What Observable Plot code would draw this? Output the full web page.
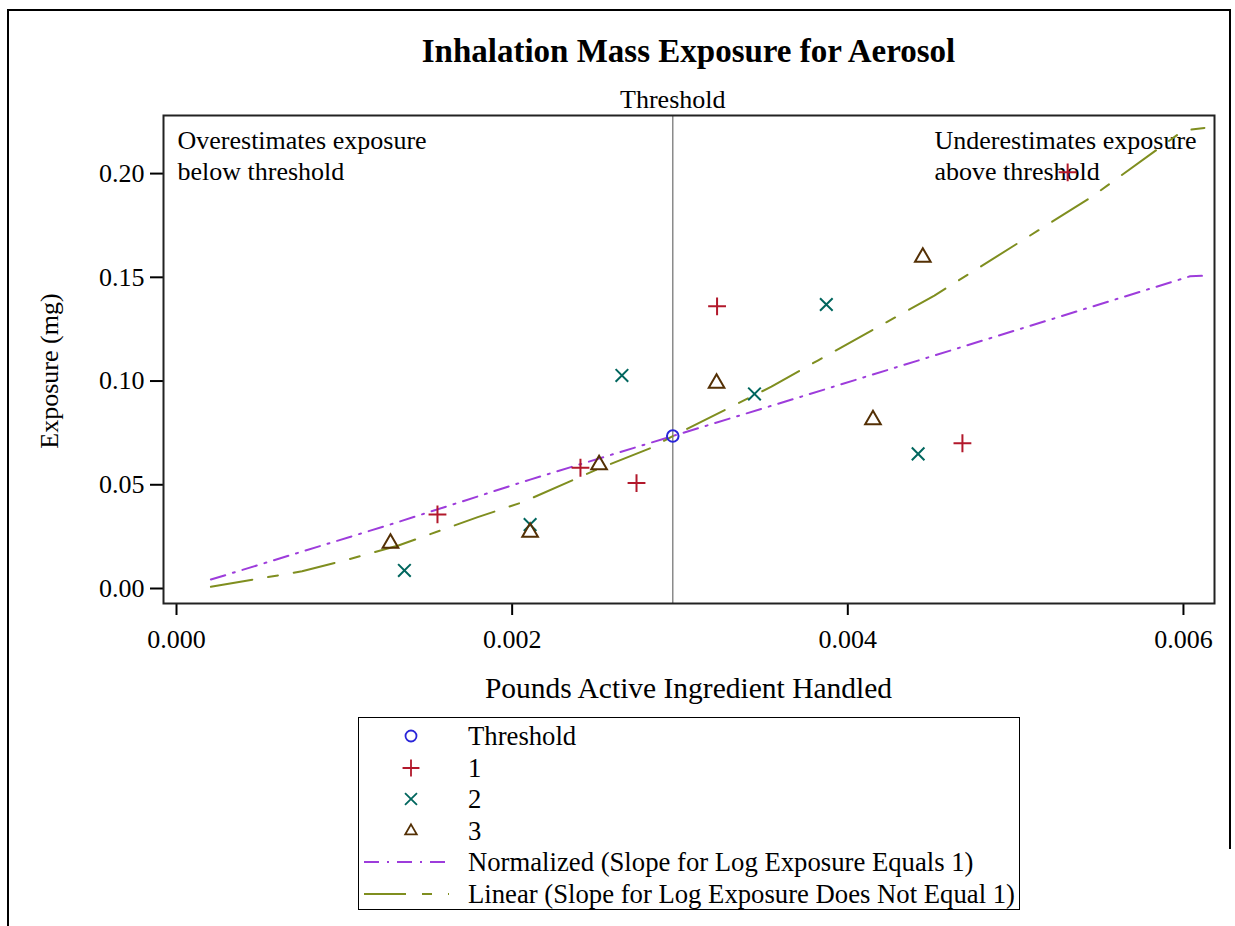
<!DOCTYPE html>
<html>
<head>
<meta charset="utf-8">
<script src="https://cdn.jsdelivr.net/npm/d3@7"></script>
<script src="https://cdn.jsdelivr.net/npm/@observablehq/plot@0.6"></script>
<style>
  html, body { margin: 0; padding: 0; background: #fff; }
  body { width: 1235px; height: 926px; position: relative; overflow: hidden; font-family: "Liberation Serif", "Times New Roman", serif; color: #000; }
  .abs { position: absolute; }
  .border { position: absolute; background: #000; z-index: 10; }
  #title { left: 163px; width: 1051px; top: 31px; text-align: center; font-weight: bold; font-size: 33px; line-height: 40px; }
  #xlabel { left: 163px; width: 1051px; top: 671px; text-align: center; font-size: 29.5px; line-height: 34px; }
  #ylabel { left: 50px; top: 371px; font-size: 26px; line-height: 30px; white-space: nowrap; transform: translate(-50%, -50%) rotate(-90deg); }
  #chart { left: 0; top: 70px; width: 1235px; }
  #legend { left: 358px; top: 717px; width: 662px; height: 193px; border: 1.5px solid #000; box-sizing: border-box; }
  .row { position: absolute; left: 0; height: 32px; font-size: 26.7px; }
  .row svg { position: absolute; }
  .row span { position: absolute; left: 109px; white-space: nowrap; line-height: 32px; }
</style>
</head>
<body>
<div class="border" style="left:7px;top:9px;width:1224px;height:2px"></div>
<div class="border" style="left:7px;top:9px;width:2px;height:917px"></div>
<div class="border" style="left:1229px;top:9px;width:2px;height:840px"></div>
<div id="title" class="abs">Inhalation Mass Exposure for Aerosol</div>
<div id="chart" class="abs"></div>
<div id="xlabel" class="abs">Pounds Active Ingredient Handled</div>
<div id="ylabel" class="abs">Exposure (mg)</div>
<div id="legend" class="abs"></div>
<script>
// ---- data ----
const thresholdX = [0.002957];
const thresholdY = [0.0735];

const group1X = [0.001555, 0.002407, 0.002741, 0.003221, 0.004683, 0.005310];
const group1Y = [0.0357, 0.0582, 0.0508, 0.1360, 0.0700, 0.2006];

const group2X = [0.001358, 0.002107, 0.002654, 0.003444, 0.003872, 0.004419];
const group2Y = [0.0087, 0.0308, 0.1027, 0.0938, 0.1369, 0.0649];

const group3X = [0.001275, 0.002107, 0.002518, 0.003218, 0.004150, 0.004447];
const group3Y = [0.0218, 0.0271, 0.0596, 0.0989, 0.0813, 0.1597];

const normX = [0.000205, 0.001300, 0.002107, 0.002957, 0.003872, 0.004683, 0.006040, 0.006110];
const normY = [0.0043, 0.0315, 0.0525, 0.0735, 0.0962, 0.1165, 0.1505, 0.1507];

const linX = [0.000205, 0.000748, 0.001014, 0.001322, 0.001795, 0.002062, 0.002514, 0.002822, 0.002957, 0.003545, 0.003821, 0.004516, 0.005450, 0.005998, 0.006125];
const linY = [0.0008, 0.0083, 0.0138, 0.0207, 0.0344, 0.0416, 0.0577, 0.0676, 0.0735, 0.0973, 0.1099, 0.1412, 0.1886, 0.2207, 0.2220];

const xTicks = [0, 0.002, 0.004, 0.006];
const yTicks = [0, 0.05, 0.10, 0.15, 0.20];

const seriesNames = ["Threshold", "1", "2", "3"];
const seriesSymbols = ["circle", "plus", "times", "triangle"];
const seriesColors = ["#2A25D9", "#B2182B", "#01665E", "#543005"];
const lineNames = ["Normalized (Slope for Log Exposure Equals 1)", "Linear (Slope for Log Exposure Does Not Equal 1)"];
const lineColors = ["#9D3CDB", "#7F8E1F"];
const lineDashes = ["15,8,2,8", "42,16,10,16"];

const noteLeft = "Overestimates exposure\nbelow threshold";
const noteRight = "Underestimates exposure\nabove threshold";

// ---- build tables ----
const zip = (xs, ys) => xs.map((x, i) => ({x, y: ys[i]}));
const pointSets = [zip(thresholdX, thresholdY), zip(group1X, group1Y), zip(group2X, group2Y), zip(group3X, group3Y)];
const lineSets = [zip(normX, normY), zip(linX, linY)];

const TICK_FONT = 26;
const fmtX = d3.format(".3f");
const fmtY = d3.format(".2f");
const R = 5.8;
const chart = Plot.plot({
  width: 1235,
  height: 590,
  marginTop: 45,
  marginLeft: 163,
  marginRight: 21,
  marginBottom: 57,
  style: {fontFamily: "'Liberation Serif', 'Times New Roman', serif", fontSize: "20px", background: "transparent", overflow: "visible", color: "#000"},
  x: {domain: [-0.0000775, 0.006185], ticks: xTicks, tickFormat: () => "", tickSize: 12, label: null},
  y: {domain: [-0.00723, 0.228], ticks: yTicks, tickFormat: () => "", tickSize: 13, label: null},
  marks: [
    // tick labels drawn as text marks so their size is controlled
    Plot.text(xTicks, {x: d => d, frameAnchor: "bottom", text: d => fmtX(d), dy: 36, lineAnchor: "middle", fontSize: TICK_FONT, fill: "#000", clip: false}),
    Plot.text(yTicks, {y: d => d, frameAnchor: "left", text: d => fmtY(d), dx: -19, textAnchor: "end", lineAnchor: "middle", fontSize: TICK_FONT, fill: "#000", clip: false}),
    Plot.ruleX(thresholdX, {x: d => d, stroke: "#8a8a8a", strokeWidth: 1.5}),
    Plot.text(thresholdX, {x: d => d, frameAnchor: "top", text: () => "Threshold", dy: -8, lineAnchor: "bottom", fontSize: 26, fill: "#000"}),
    Plot.text([noteLeft], {frameAnchor: "top-left", text: d => d, dx: 14, dy: 11, lineAnchor: "top", textAnchor: "start", fontSize: 26, lineHeight: 1.2, fill: "#000"}),
    Plot.text([noteRight], {frameAnchor: "top-right", text: d => d, dx: -280, dy: 11, lineAnchor: "top", textAnchor: "start", fontSize: 26, lineHeight: 1.2, fill: "#000"}),
    ...lineSets.map((data, i) => Plot.line(data, {x: "x", y: "y", stroke: lineColors[i], strokeWidth: 2, strokeDasharray: lineDashes[i]})),
    ...pointSets.map((data, i) => Plot.dot(data, {x: "x", y: "y", symbol: seriesSymbols[i], stroke: seriesColors[i], fill: "none", r: R, strokeWidth: 2})),
    Plot.frame({stroke: "#222", strokeWidth: 2})
  ]
});
chart.querySelectorAll('[aria-label*="axis"] path, [aria-label*="axis"] line').forEach(el => el.setAttribute("stroke-width", 2));
document.getElementById("chart").appendChild(chart);

// ---- legend ----
const legend = d3.select("#legend");
const d3Sym = {circle: d3.symbolCircle, plus: d3.symbolPlus, times: d3.symbolTimes, triangle: d3.symbolTriangle2};
const rowTop = i => 2 + i * 31.6;
seriesNames.forEach((name, i) => {
  const row = legend.append("div").attr("class", "row").style("top", rowTop(i) + "px").style("width", "100%");
  const svg = row.append("svg").attr("width", 30).attr("height", 32).style("left", "37px").style("top", "0px");
  svg.append("path")
    .attr("transform", "translate(15,16)")
    .attr("d", d3.symbol(d3Sym[seriesSymbols[i]], Math.PI * 5.5 * 5.5)())
    .attr("fill", "none").attr("stroke", seriesColors[i]).attr("stroke-width", 1.8);
  row.append("span").text(name);
});
lineNames.forEach((name, i) => {
  const row = legend.append("div").attr("class", "row").style("top", rowTop(i + 4) + "px").style("width", "100%");
  const svg = row.append("svg").attr("width", 95).attr("height", 32).style("left", "5px").style("top", "0px");
  svg.append("line").attr("x1", 0).attr("x2", 85).attr("y1", 16).attr("y2", 16)
    .attr("stroke", lineColors[i]).attr("stroke-width", 2).attr("stroke-dasharray", lineDashes[i]);
  row.append("span").text(name);
});
</script>
</body>
</html>
